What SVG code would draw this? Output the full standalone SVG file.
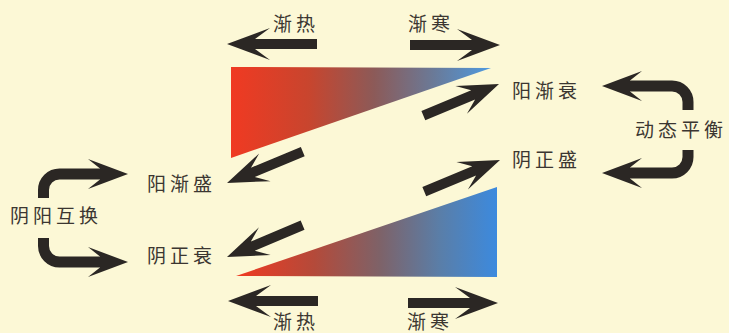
<svg xmlns="http://www.w3.org/2000/svg" width="729" height="333" viewBox="0 0 729 333">
<style>
.lbl{font-family:"Noto Sans CJK SC","Noto Sans",sans-serif;font-size:19px;fill:#3b3631;letter-spacing:4px}
.ar{fill:#2b2724}
.sh{fill:none;stroke:#2b2724;stroke-width:11}
</style>
<defs>
<linearGradient id="g1" gradientUnits="userSpaceOnUse" x1="231" y1="0" x2="491" y2="0">
<stop offset="0" stop-color="#f03a22"/>
<stop offset="0.3" stop-color="#c8452e"/>
<stop offset="0.55" stop-color="#8c5a58"/>
<stop offset="0.78" stop-color="#6a7a98"/>
<stop offset="1" stop-color="#4e9ae0"/>
</linearGradient>
<linearGradient id="g2" gradientUnits="userSpaceOnUse" x1="236" y1="0" x2="497" y2="0">
<stop offset="0" stop-color="#f03a22"/>
<stop offset="0.3" stop-color="#b44a3a"/>
<stop offset="0.55" stop-color="#7e6268"/>
<stop offset="0.78" stop-color="#5a7ea8"/>
<stop offset="1" stop-color="#3c8ade"/>
</linearGradient>
<path id="ah" d="M0 0 L-43 -16 L-28 -5 L-90 -5 L-90 5 L-28 5 L-43 16 Z"/>
<path id="ad" d="M0 0 L-41 -15 L-28 -5 L-82 -5 L-82 5 L-28 5 L-41 15 Z"/>
<path id="hd" d="M0 0 L-40 -15 L-28 -5.5 L-28 5.5 L-40 15 Z"/>
</defs>
<rect width="729" height="333" fill="#fcf8d6"/>
<g id="triangle-top"><polygon points="231,67 491,68 231,158" fill="url(#g1)"/></g>
<g id="triangle-bottom"><polygon points="236,276 497,187 497,277" fill="url(#g2)"/></g>
<g id="connectors" class="ar">
<use href="#ah" transform="translate(227,44) rotate(180)"/>
<use href="#ah" transform="translate(500,45)"/>
<use href="#ah" transform="translate(228,301) rotate(180)"/>
<use href="#ah" transform="translate(498,303)"/>
<use href="#ad" transform="translate(499,84) rotate(-22.7)"/>
<use href="#ad" transform="translate(227,183) rotate(157.5)"/>
<use href="#ad" transform="translate(500,160) rotate(-22.6)"/>
<use href="#ad" transform="translate(227,257) rotate(157.2)"/>
<path class="sh" d="M628 86 H672 A16 16 0 0 1 688 102 V110"/>
<use href="#hd" transform="translate(602,86) rotate(180)"/>
<path class="sh" d="M688 150 V157 A16 16 0 0 1 672 173 H628"/>
<use href="#hd" transform="translate(602,173) rotate(180)"/>
<path class="sh" d="M43.5 198 V190 A16 16 0 0 1 59.5 174 H102"/>
<use href="#hd" transform="translate(128,174)"/>
<path class="sh" d="M43.5 238 V246 A16 16 0 0 0 59.5 262 H102"/>
<use href="#hd" transform="translate(128,262)"/>
</g>
<g id="label-top-hot"><text class="lbl" x="273" y="31">渐热</text></g>
<g id="label-top-cold"><text class="lbl" x="408" y="31">渐寒</text></g>
<g id="label-bottom-hot"><text class="lbl" x="273" y="329">渐热</text></g>
<g id="label-bottom-cold"><text class="lbl" x="407" y="329">渐寒</text></g>
<g id="node-yang-decline"><text class="lbl" x="512" y="98">阳渐衰</text></g>
<g id="node-yin-rise"><text class="lbl" x="512" y="167">阴正盛</text></g>
<g id="node-balance"><text class="lbl" x="635" y="137">动态平衡</text></g>
<g id="node-yang-rise"><text class="lbl" x="147" y="191">阳渐盛</text></g>
<g id="node-yin-decline"><text class="lbl" x="147" y="263">阴正衰</text></g>
<g id="node-exchange"><text class="lbl" x="10" y="223">阴阳互换</text></g>
</svg>
